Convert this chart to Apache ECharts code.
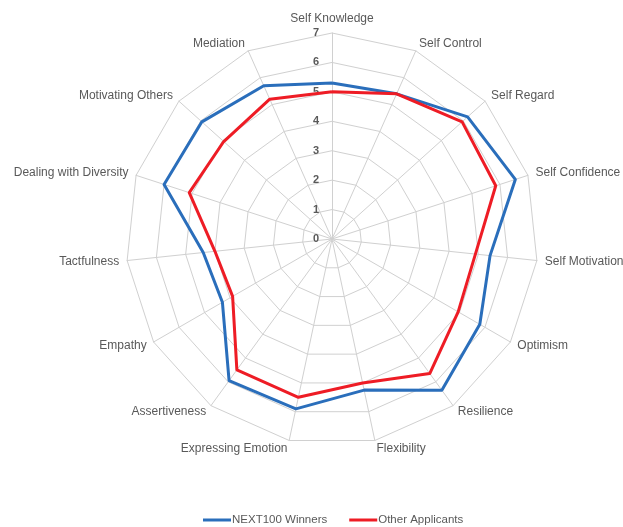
<!DOCTYPE html>
<html>
<head>
<meta charset="utf-8">
<script src="https://cdn.jsdelivr.net/npm/echarts@6/dist/echarts.min.js"></script>
<style>
  html, body { margin: 0; padding: 0; background: #fff; }
  #main { width: 623px; height: 527px; }
</style>
</head>
<body>
<div id="main"></div>
<script>
// categories in clockwise order, starting at the top
const categories = [
  'Self Knowledge', 'Self Control', 'Self Regard', 'Self Confidence',
  'Self Motivation', 'Optimism', 'Resilience', 'Flexibility',
  'Expressing Emotion', 'Assertiveness', 'Empathy', 'Tactfulness',
  'Dealing with Diversity', 'Motivating Others', 'Mediation'
]
const winners = [5.3, 5.4, 6.2, 6.55, 5.4, 5.8, 6.35, 5.25, 5.9, 5.95, 4.3, 4.4, 6.0, 5.95, 5.7]
const others = [5.0, 5.4, 5.95, 5.85, 4.9, 4.95, 5.65, 5.0, 5.5, 5.5, 3.9, 4.0, 5.1, 4.95, 5.2]
const seriesNames = ['NEXT100 Winners', 'Other Applicants']
const seriesColors = ['#2a6ebb', '#ee1c25']
const axisMax = 7

// echarts lays radar indicators out counter-clockwise, so flip the order
const flip = (arr) => [arr[0]].concat(arr.slice(1).reverse())

const chart = echarts.init(document.getElementById('main'))

const indicator = flip(categories).map((name, i) => ({
  name: name,
  min: 0,
  max: axisMax,
  axisLabel: i === 0 ? { show: true } : undefined
}))

chart.setOption({
  backgroundColor: '#fff',
  textStyle: { fontFamily: 'Liberation Sans, Arial, sans-serif' },
  legend: {
    bottom: 1,
    padding: 0,
    left: 203,
    itemWidth: 28,
    itemHeight: 3,
    itemGap: 22,
    icon: 'rect',
    textStyle: { color: '#595959', fontSize: 11.5, padding: [0, 0, 0, -4] },
    data: seriesNames
  },
  radar: {
    center: [332, 239],
    radius: 206,
    startAngle: 90,
    splitNumber: 7,
    shape: 'polygon',
    indicator: indicator,
    axisName: { color: '#595959', fontSize: 12 },
    nameGap: 8,
    splitArea: { show: false },
    splitLine: { lineStyle: { color: '#d0d0d0', width: 1 } },
    axisLine: { lineStyle: { color: '#d0d0d0', width: 1 } },
    axisTick: { show: false },
    axisLabel: {
      show: false,
      color: '#595959',
      fontSize: 11,
      fontWeight: 'bold',
      margin: 13
    }
  },
  series: [{
    type: 'radar',
    symbol: 'none',
    data: [winners, others].map((vals, i) => ({
      name: seriesNames[i],
      value: flip(vals),
      lineStyle: { color: seriesColors[i], width: 3 },
      itemStyle: { color: seriesColors[i] }
    }))
  }]
})
</script>
</body>
</html>
